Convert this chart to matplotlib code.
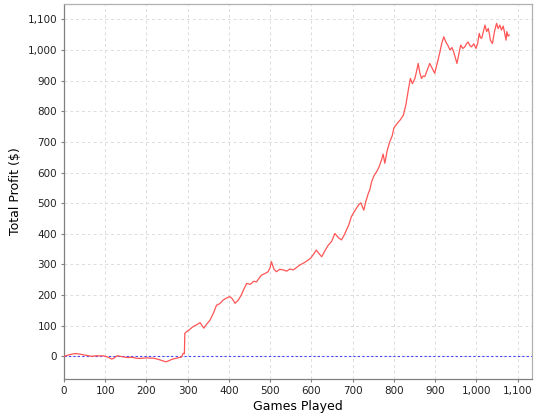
import matplotlib
matplotlib.use("Agg")
import matplotlib.pyplot as plt
from matplotlib.ticker import FuncFormatter

games = [0, 10, 19, 27, 39, 51, 60, 67, 79, 88, 95, 107, 116, 122, 129, 144, 155, 164, 175, 184,
         200, 210, 217, 229, 238, 247, 255, 261, 270, 277, 285, 289, 292,
         293, 297, 305, 313, 322, 330, 339, 346, 354, 362, 370, 378, 386, 394, 402, 408, 415, 423,
         430, 435, 443, 452, 460, 467, 473, 479, 487, 495, 500, 503, 509, 515, 523, 532, 540, 548,
         556, 564, 572, 582, 592, 598, 604, 612, 618, 625, 633, 641, 649, 657, 665, 673, 679, 685,
         691, 697, 703, 709, 715, 720, 727, 732, 738, 742, 746, 752, 758, 764, 770, 774, 778, 784,
         790, 796, 800, 808, 815, 823, 829, 835, 840, 845, 851, 855, 859, 863, 867, 871, 875, 881,
         887, 893, 899, 903, 907, 912, 916, 921, 926, 931, 936, 941, 945, 949, 953, 958, 962, 967,
         972, 976, 980, 984, 988, 994, 999, 1003, 1007, 1010, 1013, 1017, 1021, 1025, 1029, 1032,
         1034, 1039, 1044, 1049, 1053, 1057, 1061, 1065, 1068, 1072, 1074, 1077, 1080]
profit = [0, 4, 7, 9, 7, 4, 2, 0, 2, 1, 2, -3, -9, -5, 2, -2, -4, -3, -6, -7,
          -5, -6, -6, -10, -14, -18, -14, -10, -7, -5, -2, 10, 8,
          75, 80, 88, 97, 103, 110, 92, 105, 118, 140, 167, 172, 184, 190, 195, 188, 173, 184,
          200, 216, 238, 235, 245, 243, 255, 265, 270, 276, 290, 309, 285, 276, 284, 282, 278, 285,
          282, 290, 298, 305, 314, 320, 331, 347, 336, 325, 345, 363, 375, 401, 388, 380, 395, 412,
          430, 456, 470, 483, 495, 501, 477, 505, 532, 545, 570, 590, 602, 618, 641, 660, 630, 673,
          700, 720, 745, 760, 771, 787, 820, 869, 907, 890, 907, 930, 956, 925, 907, 915, 913, 935,
          956, 940, 924, 945, 967, 995, 1021, 1043, 1026, 1015, 1000, 1008, 994, 975, 956, 990, 1016, 1005,
          1010, 1020, 1026, 1015, 1010, 1020, 1005, 1020, 1054, 1040, 1038, 1060, 1081, 1060, 1070, 1050,
          1032, 1021, 1060, 1087, 1070, 1081, 1065, 1078, 1060, 1032, 1060, 1045, 1049]

x_ticks = list(range(0, 1101, 100))
y_ticks = list(range(0, 1101, 100))

fig = plt.figure(figsize=(5.4, 4.2), dpi=100)
ax = fig.add_axes([64/540, 1 - 379/420, (532 - 64)/540, (379 - 4)/420])

ax.plot(games, profit, color="#ff5555", lw=0.9, zorder=3)
ax.axhline(0, color="#4444ff", lw=0.8, ls=(0, (2, 2)), zorder=2)

ax.set_xlim(0, 1135)
ax.set_ylim(-74, 1150)
ax.set_xticks(x_ticks)
ax.set_yticks(y_ticks)
fmt = FuncFormatter(lambda v, p: f"{int(v):,}")
ax.xaxis.set_major_formatter(fmt)
ax.yaxis.set_major_formatter(fmt)
ax.grid(True, color="#dcdcdc", lw=0.7, ls=(0, (3, 3)))
ax.set_axisbelow(True)
for s in ax.spines.values():
    s.set_color("#b0b0b0")
    s.set_linewidth(0.9)
ax.spines["left"].set_color("#808080")
ax.spines["bottom"].set_color("#808080")
ax.tick_params(length=2, color="#808080", labelsize=7.5, pad=3, labelcolor="#222222")
ax.set_xlabel("Games Played", fontsize=9, labelpad=3)
ax.set_ylabel("Total Profit ($)", fontsize=9, labelpad=4)

fig.savefig("out.png", dpi=100)
